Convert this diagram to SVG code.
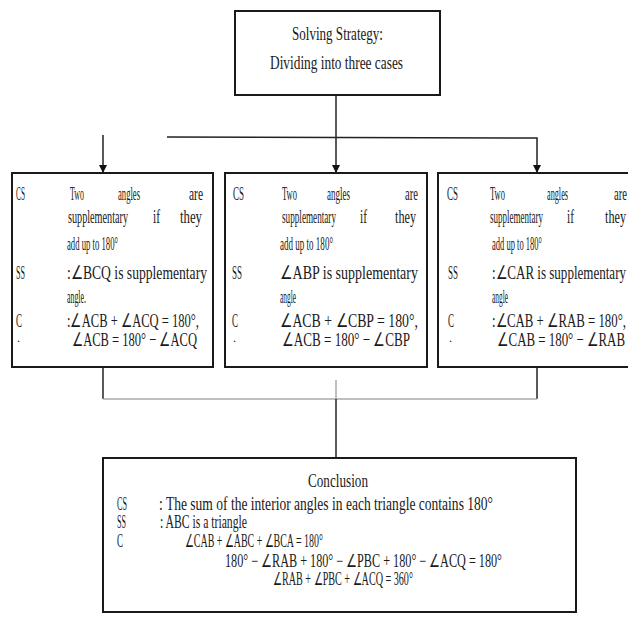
<svg xmlns="http://www.w3.org/2000/svg" width="628" height="628" viewBox="0 0 628 628">
<style>
.box{fill:#fff;stroke:#1a1a1a;stroke-width:2}
.t{font-family:"Liberation Serif","Times New Roman",serif;font-size:19px;fill:#1a1a1a}
.c{font-family:"Liberation Serif","Times New Roman",serif;font-size:18px;fill:#1a1a1a}
.d{font-family:"Liberation Serif","Times New Roman",serif;font-size:12px;fill:#1a1a1a}
.ln{fill:none;stroke:#222;stroke-width:1.5}
.lg{fill:none;stroke:#aaa;stroke-width:1.5}
</style>
<defs>
<marker id="arr" markerWidth="8" markerHeight="8" refX="7" refY="4" orient="auto" markerUnits="userSpaceOnUse">
<path d="M0,0 L8,4 L0,8 z" fill="#111"/>
</marker>
</defs>
<rect width="628" height="628" fill="#fff"/>
<g id="connectors">
<line class="ln" x1="336" y1="95" x2="336" y2="172" marker-end="url(#arr)"/>
<line class="ln" x1="103" y1="135" x2="103" y2="172" marker-end="url(#arr)"/>
<polyline class="ln" points="167,137 537,138 537,172" marker-end="url(#arr)"/>
<polyline class="ln" points="103,368 103,399"/>
<polyline class="ln" points="537,368 537,399"/>
<line class="lg" x1="103" y1="399" x2="537" y2="399"/>
<line class="lg" x1="336" y1="380" x2="336" y2="399"/>
<line class="ln" x1="336" y1="399" x2="336" y2="458"/>
</g>
<g id="strategy">
<rect class="box" x="235" y="11" width="205" height="84"/>
<text class="t" x="292" y="40" textLength="91" lengthAdjust="spacingAndGlyphs">Solving Strategy:</text>
<text class="t" x="270" y="69" textLength="133" lengthAdjust="spacingAndGlyphs">Dividing into three cases</text>
</g>
<g id="case1">
<rect class="box" x="12" y="173" width="201" height="194"/>
<text class="t" x="16" y="200" textLength="9" lengthAdjust="spacingAndGlyphs">CS</text>
<text class="t" x="70" y="200" textLength="14" lengthAdjust="spacingAndGlyphs">Two</text>
<text class="t" x="118" y="200" textLength="22" lengthAdjust="spacingAndGlyphs">angles</text>
<text class="t" x="189" y="200" textLength="14" lengthAdjust="spacingAndGlyphs">are</text>
<text class="t" x="68" y="223" textLength="60" lengthAdjust="spacingAndGlyphs">supplementary</text>
<text class="t" x="153" y="223" textLength="7" lengthAdjust="spacingAndGlyphs">if</text>
<text class="t" x="180" y="223" textLength="22" lengthAdjust="spacingAndGlyphs">they</text>
<text class="t" x="67" y="250" textLength="51" lengthAdjust="spacingAndGlyphs">add up to 180°</text>
<text class="t" x="16" y="279" textLength="9" lengthAdjust="spacingAndGlyphs">SS</text>
<text class="t" x="67" y="279" textLength="140" lengthAdjust="spacingAndGlyphs">:∠BCQ is supplementary</text>
<text class="t" x="67" y="303" textLength="19" lengthAdjust="spacingAndGlyphs">angle.</text>
<text class="t" x="16" y="327" textLength="6" lengthAdjust="spacingAndGlyphs">C</text>
<text class="d" x="17" y="342">.</text>
<text class="t" x="67" y="327" textLength="132" lengthAdjust="spacingAndGlyphs">:∠ACB + ∠ACQ = 180°,</text>
<text class="t" x="72" y="346" textLength="125" lengthAdjust="spacingAndGlyphs">∠ACB = 180° − ∠ACQ</text>
</g>
<g id="case2">
<rect class="box" x="225" y="173" width="202" height="194"/>
<text class="t" x="233" y="200" textLength="11" lengthAdjust="spacingAndGlyphs">CS</text>
<text class="t" x="282" y="200" textLength="15" lengthAdjust="spacingAndGlyphs">Two</text>
<text class="t" x="327" y="200" textLength="23" lengthAdjust="spacingAndGlyphs">angles</text>
<text class="t" x="405" y="200" textLength="13" lengthAdjust="spacingAndGlyphs">are</text>
<text class="t" x="282" y="223" textLength="54" lengthAdjust="spacingAndGlyphs">supplementary</text>
<text class="t" x="360" y="223" textLength="7" lengthAdjust="spacingAndGlyphs">if</text>
<text class="t" x="395" y="223" textLength="21" lengthAdjust="spacingAndGlyphs">they</text>
<text class="t" x="280" y="250" textLength="53" lengthAdjust="spacingAndGlyphs">add up to 180°</text>
<text class="t" x="232" y="279" textLength="10" lengthAdjust="spacingAndGlyphs">SS</text>
<text class="t" x="280" y="279" textLength="138" lengthAdjust="spacingAndGlyphs">∠ABP is supplementary</text>
<text class="t" x="280" y="303" textLength="16" lengthAdjust="spacingAndGlyphs">angle</text>
<text class="t" x="232" y="327" textLength="6" lengthAdjust="spacingAndGlyphs">C</text>
<text class="d" x="233" y="342">.</text>
<text class="t" x="280" y="327" textLength="138" lengthAdjust="spacingAndGlyphs">∠ACB + ∠CBP = 180°,</text>
<text class="t" x="282" y="346" textLength="128" lengthAdjust="spacingAndGlyphs">∠ACB = 180° − ∠CBP</text>
</g>
<g id="case3">
<rect class="box" x="438" y="173" width="200" height="194"/>
<text class="t" x="447" y="200" textLength="11" lengthAdjust="spacingAndGlyphs">CS</text>
<text class="t" x="490" y="200" textLength="15" lengthAdjust="spacingAndGlyphs">Two</text>
<text class="t" x="547" y="200" textLength="21" lengthAdjust="spacingAndGlyphs">angles</text>
<text class="t" x="614" y="200" textLength="13" lengthAdjust="spacingAndGlyphs">are</text>
<text class="t" x="490" y="223" textLength="53" lengthAdjust="spacingAndGlyphs">supplementary</text>
<text class="t" x="567" y="223" textLength="7" lengthAdjust="spacingAndGlyphs">if</text>
<text class="t" x="605" y="223" textLength="21" lengthAdjust="spacingAndGlyphs">they</text>
<text class="t" x="492" y="250" textLength="50" lengthAdjust="spacingAndGlyphs">add up to 180°</text>
<text class="t" x="448" y="279" textLength="10" lengthAdjust="spacingAndGlyphs">SS</text>
<text class="t" x="492" y="279" textLength="134" lengthAdjust="spacingAndGlyphs">:∠CAR is supplementary</text>
<text class="t" x="492" y="303" textLength="16" lengthAdjust="spacingAndGlyphs">angle</text>
<text class="t" x="448" y="327" textLength="6" lengthAdjust="spacingAndGlyphs">C</text>
<text class="d" x="449" y="342">.</text>
<text class="t" x="492" y="327" textLength="134" lengthAdjust="spacingAndGlyphs">:∠CAB + ∠RAB = 180°,</text>
<text class="t" x="497" y="346" textLength="128" lengthAdjust="spacingAndGlyphs">∠CAB = 180° − ∠RAB</text>
</g>
<g id="conclusion">
<rect class="box" x="103" y="458" width="473" height="154"/>
<text class="c" x="308" y="487" textLength="60" lengthAdjust="spacingAndGlyphs">Conclusion</text>
<text class="c" x="117" y="510" textLength="10" lengthAdjust="spacingAndGlyphs">CS</text>
<text class="c" x="159" y="510" textLength="334" lengthAdjust="spacingAndGlyphs">: The sum of the interior angles in each triangle contains 180°</text>
<text class="c" x="117" y="528" textLength="9" lengthAdjust="spacingAndGlyphs">SS</text>
<text class="c" x="160" y="528" textLength="87" lengthAdjust="spacingAndGlyphs">: ABC is a triangle</text>
<text class="c" x="117" y="547" textLength="6" lengthAdjust="spacingAndGlyphs">C</text>
<text class="c" x="185" y="547" textLength="138" lengthAdjust="spacingAndGlyphs">∠CAB + ∠ABC + ∠BCA = 180°</text>
<text class="c" x="225" y="567" textLength="277" lengthAdjust="spacingAndGlyphs">180° − ∠RAB + 180° − ∠PBC + 180° − ∠ACQ = 180°</text>
<text class="c" x="273" y="585" textLength="140" lengthAdjust="spacingAndGlyphs">∠RAB + ∠PBC + ∠ACQ = 360°</text>
</g>
</svg>
